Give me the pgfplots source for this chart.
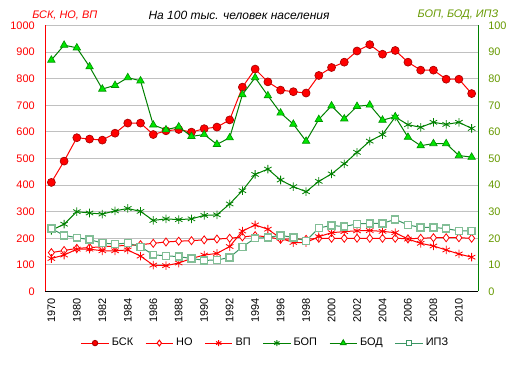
\documentclass[border=0pt]{standalone}
\usepackage{fontspec}
\setmainfont{Liberation Sans}
\usepackage{pgfplots}
\usepackage{pgfplotstable}
\pgfplotsset{compat=1.18}
\definecolor{cred}{RGB}{255,0,0}
\definecolor{cdred}{RGB}{170,0,0}
\definecolor{cgreen}{RGB}{0,128,0}
\definecolor{clime}{RGB}{0,230,0}
\definecolor{climeedge}{RGB}{0,150,0}
\definecolor{csea}{RGB}{60,150,100}
\definecolor{csage}{RGB}{130,190,150}
\definecolor{colive}{RGB}{102,153,0}
\definecolor{cgrid}{RGB}{192,192,192}
\newcommand\tfont{\fontsize{8.2}{9}\selectfont}

\pgfplotstableread{
x bsk no vp bop bod ipz
0 410 146 124 23.0 87.0 23.6
1 490 154 137 25.3 92.6 21.1
2 578 162 159 30.0 91.6 20.2
3 573 165 159 29.5 84.5 19.5
4 569 168 153 29.1 76.1 18.2
5 595 171 153 30.3 77.5 17.8
6 633 173 156 31.2 80.4 18.2
7 633 176 133 30.1 79.2 16.8
8 590 181 99 26.7 62.6 13.8
9 604 186 97 27.3 60.8 13.4
10 609 189 107 27.0 61.9 13.1
11 599 191 124 27.3 58.3 12.4
12 612 194 137 28.6 59.0 11.7
13 618 197 143 28.8 55.3 11.8
14 645 200 169 32.9 57.8 12.8
15 768 205 227 37.9 74.0 16.8
16 836 210 250 44.0 80.4 20.0
17 788 205 234 46.0 73.6 20.3
18 757 196 200 41.9 67.1 21.1
19 751 198 184 39.4 62.9 20.3
20 746 196 184 37.5 56.5 19.0
21 812 200 206 41.4 64.7 23.9
22 842 200 221 44.2 69.8 24.8
23 862 200 225 48.0 64.9 24.4
24 904 200 228 52.3 69.6 25.4
25 928 200 229 56.5 70.1 25.6
26 892 200 226 59.0 64.4 25.6
27 906 200 221 65.6 65.7 27.1
28 862 198 197 62.7 58.0 25.0
29 832 200 181 61.7 54.8 24.1
30 832 202 171 63.6 55.6 24.1
31 798 202 156 62.8 55.6 23.6
32 798 202 141 63.6 51.1 22.8
33 744 200 129 61.3 50.5 22.8
}\data

\begin{document}
\begin{tikzpicture}
\useasboundingbox (0,0) rectangle (387pt,273pt);
\begin{axis}[
  at={(33.75pt,54.4pt)}, anchor=south west,
  scale only axis, width=324.75pt, height=199.5pt,
  xmin=-0.5, xmax=33.5, ymin=0, ymax=1000,
  axis x line*=bottom, axis y line*=left,
  x axis line style={black, line width=0.75pt},
  y axis line style={cred, line width=0.75pt},
  major tick length=0pt,
  xtick={0,2,...,32},
  xticklabels={1970,1980,1982,1984,1986,1988,1990,1992,1994,1996,1998,2000,2002,2004,2006,2008,2010},
  xticklabel style={rotate=90, anchor=east, inner sep=0pt, font=\tfont},
  xticklabel shift=5pt,
  ytick={0,100,...,1000},
  yticklabel style={cred, inner sep=0pt, font=\tfont},
  yticklabel shift=7.5pt,
  /pgf/number format/1000 sep={},
  /pgf/number format/assume math mode=true,
  ymajorgrids, grid style={cgrid, line width=0.75pt},
  legend style={at={(0.51,-0.194)}, anchor=center, draw=none, fill=none,
    font=\tfont, inner sep=0pt,
    /tikz/every even column/.append style={column sep=7pt}},
  legend columns=6,
  legend image code/.code={\draw[#1, mark=none] plot coordinates {(0cm,0cm) (0.72cm,0cm)};
     \draw[#1, only marks] plot coordinates {(0.36cm,0cm)};},
]
\addplot[forget plot, color=cred, line width=0.75pt, mark=*, mark size=3pt, mark options={fill=cred, draw=cdred, line width=0.5pt}] table[x=x,y=bsk]{\data};
\addplot[forget plot, color=cred, line width=0.75pt, mark=diamond*, mark size=3pt, mark options={fill=white, draw=cred, line width=0.6pt}] table[x=x,y=no]{\data};
\addplot[forget plot, color=cred, line width=0.75pt, mark=asterisk, mark size=3.2pt, mark options={draw=cred, line width=0.6pt}] table[x=x,y=vp]{\data};
\addlegendimage{color=cred, line width=0.75pt, mark=*, mark size=2pt, mark options={fill=cred, draw=cdred}}
\addlegendentry{БСК}
\addlegendimage{color=cred, line width=0.75pt, mark=diamond*, mark size=2.2pt, mark options={fill=white, draw=cred}}
\addlegendentry{НО}
\addlegendimage{color=cred, line width=0.75pt, mark=asterisk, mark size=2.3pt, mark options={draw=cred}}
\addlegendentry{ВП}
\addlegendimage{color=cgreen, line width=0.75pt, mark=asterisk, mark size=2.3pt, mark options={draw=cgreen}}
\addlegendentry{БОП}
\addlegendimage{color=cgreen, line width=0.75pt, mark=triangle*, mark size=2.4pt, mark options={fill=clime, draw=climeedge}}
\addlegendentry{БОД}
\addlegendimage{color=csea, line width=0.75pt, mark=square*, mark size=1.9pt, mark options={fill=white, draw=csea}}
\addlegendentry{ИПЗ}
\end{axis}
\begin{axis}[
  at={(33.75pt,54.4pt)}, anchor=south west,
  scale only axis, width=324.75pt, height=199.5pt,
  xmin=-0.5, xmax=33.5, ymin=0, ymax=100,
  axis x line=none, axis y line*=right,
  y axis line style={cgreen, line width=0.75pt},
  major tick length=0pt,
  ytick={0,10,...,100},
  yticklabel style={colive, inner sep=0pt, font=\tfont},
  yticklabel shift=7.5pt,
  /pgf/number format/assume math mode=true,
]
\addplot[color=cgreen, line width=0.75pt, mark=asterisk, mark size=3.2pt, mark options={draw=cgreen, line width=0.6pt}] table[x=x,y=bop]{\data};
\addplot[color=cgreen, line width=0.75pt, mark=triangle*, mark size=3.2pt, mark options={fill=clime, draw=climeedge, line width=0.5pt}] table[x=x,y=bod]{\data};
\addplot[color=csea, line width=0.75pt, mark=square*, mark size=2.6pt, mark options={fill=white, draw=csage, line width=1.1pt}] table[x=x,y=ipz]{\data};
\end{axis}
\node[anchor=west, text=cred, font=\tfont\itshape, inner sep=0pt] at (24pt,261.75pt) {БСК, НО, ВП};
\node[anchor=center, text=black, font=\fontsize{9}{10}\selectfont\itshape, inner sep=0pt] at (179.25pt,261.5pt) {На 100 тыс. человек населения};
\node[anchor=center, text=colive, font=\tfont\itshape, inner sep=0pt] at (343.5pt,261.75pt) {БОП, БОД, ИПЗ};
\end{tikzpicture}
\end{document}
